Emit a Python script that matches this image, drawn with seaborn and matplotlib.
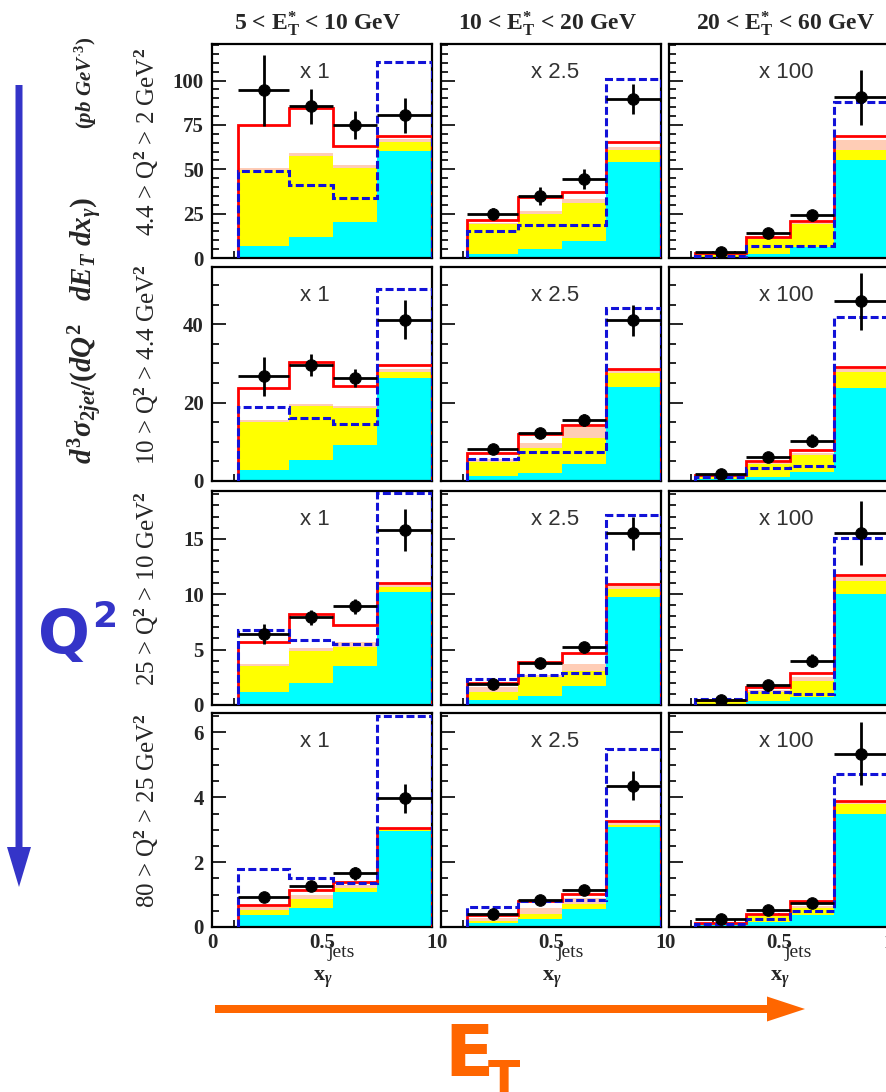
import numpy as np
import pandas as pd
import matplotlib
matplotlib.use("Agg")
import matplotlib.pyplot as plt
import seaborn as sns
from matplotlib.patches import FancyArrow

# ---------------- data ----------------
x_edges = [0.12, 0.35, 0.55, 0.75, 1.0]
et_labels = [r"5 < E$^{\mathbf{*}}_{\mathbf{T}}$ < 10 GeV",
             r"10 < E$^{\mathbf{*}}_{\mathbf{T}}$ < 20 GeV",
             r"20 < E$^{\mathbf{*}}_{\mathbf{T}}$ < 60 GeV"]
q2_labels = [r"4.4 > Q$^2$ > 2 GeV$^2$",
             r"10 > Q$^2$ > 4.4 GeV$^2$",
             r"25 > Q$^2$ > 10 GeV$^2$",
             r"80 > Q$^2$ > 25 GeV$^2$"]
scale_labels = ["x 1", "x 2.5", "x 100"]
x_tick_values = [0, 0.5, 1]
x_tick_labels = ["0", "0.5", "1"]
y_tick_values = [[0, 25, 50, 75, 100], [0, 20, 40], [0, 5, 10, 15], [0, 2, 4, 6]]
y_max = [120.6, 54.6, 19.3, 6.6]
y_minor_step = [5, 5, 1, 0.5]

# [row][col][bin]
cyan_vals = [
    [[6.9, 11.6, 20.4, 60.2], [2.2, 5.0, 9.3, 54.2], [0.7, 2.2, 6.0, 55.5]],
    [[2.9, 5.3, 9.1, 26.2], [1.2, 2.1, 4.4, 24.1], [0.4, 1.0, 2.3, 23.7]],
    [[1.2, 2.0, 3.5, 10.2], [0.45, 0.8, 1.7, 9.7], [0.1, 0.35, 0.7, 10.0]],
    [[0.38, 0.6, 1.07, 2.97], [0.12, 0.26, 0.55, 3.07], [0.05, 0.14, 0.38, 3.48]],
]
yellow_vals = [
    [[49.5, 57.5, 51.0, 65.5], [19.0, 25.0, 31.2, 60.7], [2.2, 10.7, 19.0, 61.0]],
    [[15.1, 19.1, 18.7, 27.9], [4.9, 8.3, 11.0, 27.5], [1.0, 4.3, 6.6, 27.9]],
    [[3.5, 4.9, 5.2, 10.6], [1.2, 2.5, 3.1, 10.5], [0.3, 1.2, 2.2, 11.2]],
    [[0.51, 0.87, 1.2, 3.0], [0.2, 0.4, 0.7, 3.15], [0.09, 0.33, 0.58, 3.78]],
]
pink_vals = [
    [[51.0, 59.0, 52.5, 67.0], [19.8, 26.5, 33.0, 62.5], [2.6, 11.5, 20.0, 66.5]],
    [[15.6, 19.6, 19.2, 28.6], [5.6, 9.6, 13.8, 28.2], [1.2, 4.6, 7.2, 28.5]],
    [[3.7, 5.1, 5.7, 10.8], [1.6, 2.7, 3.7, 10.8], [0.35, 1.35, 2.5, 11.5]],
    [[0.64, 1.0, 1.3, 3.02], [0.28, 0.58, 0.9, 3.2], [0.1, 0.36, 0.65, 3.85]],
]
red_vals = [
    [[75.1, 84.5, 63.0, 68.6], [21.3, 34.4, 37.4, 65.2], [2.8, 12.1, 20.9, 68.6]],
    [[23.8, 30.3, 24.3, 29.7], [7.2, 12.1, 14.4, 28.5], [1.5, 5.0, 8.0, 29.0]],
    [[5.7, 8.2, 7.2, 11.0], [2.0, 3.9, 4.7, 10.9], [0.45, 1.6, 2.9, 11.7]],
    [[0.69, 1.15, 1.38, 3.05], [0.36, 0.79, 1.03, 3.28], [0.12, 0.4, 0.79, 3.89]],
]
blue_vals = [
    [[49.0, 41.1, 33.6, 110.7], [15.3, 18.7, 18.7, 101.0], [1.3, 6.5, 6.5, 87.7]],
    [[18.8, 16.2, 14.5, 49.0], [5.7, 7.4, 7.4, 44.2], [0.9, 3.4, 3.8, 41.9]],
    [[6.8, 5.9, 5.5, 19.1], [2.3, 2.7, 2.9, 17.1], [0.5, 1.2, 1.0, 15.1]],
    [[1.79, 1.51, 1.35, 6.5], [0.62, 0.79, 0.84, 5.5], [0.09, 0.26, 0.5, 4.72]],
]
data_vals = [
    [[94.4, 85.4, 74.8, 80.4], [25.0, 35.0, 44.3, 89.5], [3.6, 14.0, 24.1, 90.5]],
    [[26.7, 29.7, 26.4, 41.2], [8.1, 12.3, 15.6, 41.0], [1.9, 6.2, 10.3, 45.8]],
    [[6.4, 7.9, 8.9, 15.8], [1.9, 3.8, 5.2, 15.5], [0.45, 1.8, 4.0, 15.5]],
    [[0.92, 1.27, 1.66, 3.97], [0.41, 0.84, 1.15, 4.36], [0.26, 0.53, 0.74, 5.35]],
]
data_errs = [
    [[20.0, 10.0, 8.0, 10.0], [3.0, 5.0, 5.6, 8.4], [1.0, 2.0, 3.0, 15.5]],
    [[5.0, 2.8, 2.3, 5.0], [1.0, 1.0, 1.5, 4.0], [0.5, 0.8, 1.7, 7.3]],
    [[0.9, 0.7, 0.7, 1.9], [0.2, 0.3, 0.5, 1.5], [0.15, 0.25, 0.6, 2.9]],
    [[0.1, 0.07, 0.2, 0.45], [0.05, 0.07, 0.08, 0.45], [0.03, 0.05, 0.12, 0.97]],
]

# ---------------- style ----------------
sns.set_theme(style="ticks")
plt.rcParams.update({
    "font.family": ["Liberation Serif", "DejaVu Serif"],
    "font.weight": "bold",
    "mathtext.fontset": "custom",
    "mathtext.rm": "Liberation Serif",
    "mathtext.it": "Liberation Serif:italic:bold",
    "mathtext.bf": "Liberation Serif:bold",
    "axes.linewidth": 1.6,
    "axes.edgecolor": "black",
})

W, H = 887, 1092
fig = plt.figure(figsize=(W / 100, H / 100), dpi=100)
fig.patch.set_facecolor("white")

col_left = [212, 441, 669]
row_top = [44, 267, 491, 713]
aw, ah = 220, 214

edges = np.array(x_edges)
centers = (edges[:-1] + edges[1:]) / 2
halfw = (edges[1:] - edges[:-1]) / 2
scale_xpos = [0.466, 0.52, 0.534]

for r in range(4):
    for c in range(3):
        ax = fig.add_axes([col_left[c] / W, 1 - (row_top[r] + ah) / H, aw / W, ah / H])
        ax.set_facecolor("white")
        for vals, colr in [(pink_vals, "#FFCDB6"), (yellow_vals, "#FFFF00"), (cyan_vals, "#00FFFF")]:
            df = pd.DataFrame({"x": centers, "w": vals[r][c]})
            sns.histplot(data=df, x="x", weights="w", bins=list(x_edges), element="step",
                         fill=True, color=colr, alpha=1, linewidth=0, ax=ax)
        ax.stairs(red_vals[r][c], edges, baseline=0, color="#FF0000", lw=2.0, zorder=3)
        ax.stairs(blue_vals[r][c], edges, baseline=0, color="#1212D8", lw=2.2,
                  linestyle=(0, (2.6, 1.1)), zorder=4)
        ax.errorbar(centers, data_vals[r][c], xerr=halfw, yerr=data_errs[r][c], fmt="none",
                    ecolor="black", elinewidth=2.0, capsize=0, zorder=6)
        sns.scatterplot(x=centers, y=data_vals[r][c], color="black", s=70, edgecolor="black",
                        zorder=7, ax=ax, legend=False)
        ax.set_xlim(0, 1)
        ax.set_ylim(0, y_max[r])
        ax.set_xlabel("")
        ax.set_ylabel("")
        ax.set_xticks(x_tick_values)
        ax.set_xticks(np.arange(0.1, 1.0, 0.1), minor=True)
        ax.set_yticks(y_tick_values[r])
        ax.set_yticks(np.arange(0, y_max[r], y_minor_step[r]), minor=True)
        ax.set_xticklabels(x_tick_labels)
        ax.set_yticklabels([str(v) for v in y_tick_values[r]])
        ax.tick_params(which="both", direction="in", top=False, right=False,
                       labelsize=15, width=1.4)
        ax.tick_params(which="major", length=10)
        ax.tick_params(which="minor", length=5)
        ax.tick_params(axis="y", pad=6, labelleft=(c == 0))
        ax.tick_params(axis="x", pad=4, labelbottom=(r == 3))
        for sp in ax.spines.values():
            sp.set_visible(True)
            sp.set_linewidth(1.6)
        ax.text(scale_xpos[c], 0.865, scale_labels[c], transform=ax.transAxes,
                ha="center", va="center", fontsize=16, family="Liberation Sans",
                weight="normal", color="#333333")
        if r == 3:
            ax.text(0.585, -0.117, "jets", transform=ax.transAxes, ha="center", va="center",
                    fontsize=14, weight="normal")
            ax.text(0.505, -0.245, r"$\mathbf{x}_{\gamma}$", transform=ax.transAxes,
                    ha="center", va="center", fontsize=16)

# column titles
title_x = [318, 547, 785]
for c in range(3):
    fig.text(title_x[c] / W, 1 - 24 / H, et_labels[c], ha="center", va="center",
             fontsize=17, weight="bold")

# row labels
for r in range(4):
    yc = row_top[r] + ah / 2 - 9
    fig.text(147 / W, 1 - yc / H, q2_labels[r], rotation=90, ha="center", va="center",
             fontsize=18, weight="normal")

# y axis label
fig.text(86 / W, 1 - 331 / H,
         r"$d^{\mathbf{3}}\sigma_{2jet}/(dQ^{\mathbf{2}}\ \ \ dE_{T}\ dx_{\gamma})$",
         rotation=90, ha="center", va="center", fontsize=21)
fig.text(86 / W, 1 - 83 / H, r"$(pb\ GeV^{\cdot\mathbf{3}})$",
         rotation=90, ha="center", va="center", fontsize=15)

# overlay for arrows and big annotations
ov = fig.add_axes([0, 0, 1, 1], zorder=10)
ov.set_xlim(0, W)
ov.set_ylim(H, 0)
ov.axis("off")
ov.patch.set_alpha(0)
ov.add_patch(FancyArrow(19, 85, 0, 802, width=7, head_width=24, head_length=40,
                        length_includes_head=True, color="#3434C8", lw=0))
ov.add_patch(FancyArrow(215, 1009, 590, 0, width=8, head_width=25, head_length=38,
                        length_includes_head=True, color="#FF6600", lw=0))
ov.text(64, 636, "Q", fontsize=44, family="DejaVu Sans", weight="bold",
        color="#3434C8", ha="center", va="center")
ov.text(105, 617, "2", fontsize=26, family="DejaVu Sans", weight="bold",
        color="#3434C8", ha="center", va="center")
ov.text(469, 1056, "E", fontsize=52, family="DejaVu Sans", weight="bold",
        color="#FF6600", ha="center", va="center")
ov.text(504, 1082, "T", fontsize=34, family="DejaVu Sans", weight="bold",
        color="#FF6600", ha="center", va="center")

fig.savefig("out.png", dpi=100)
